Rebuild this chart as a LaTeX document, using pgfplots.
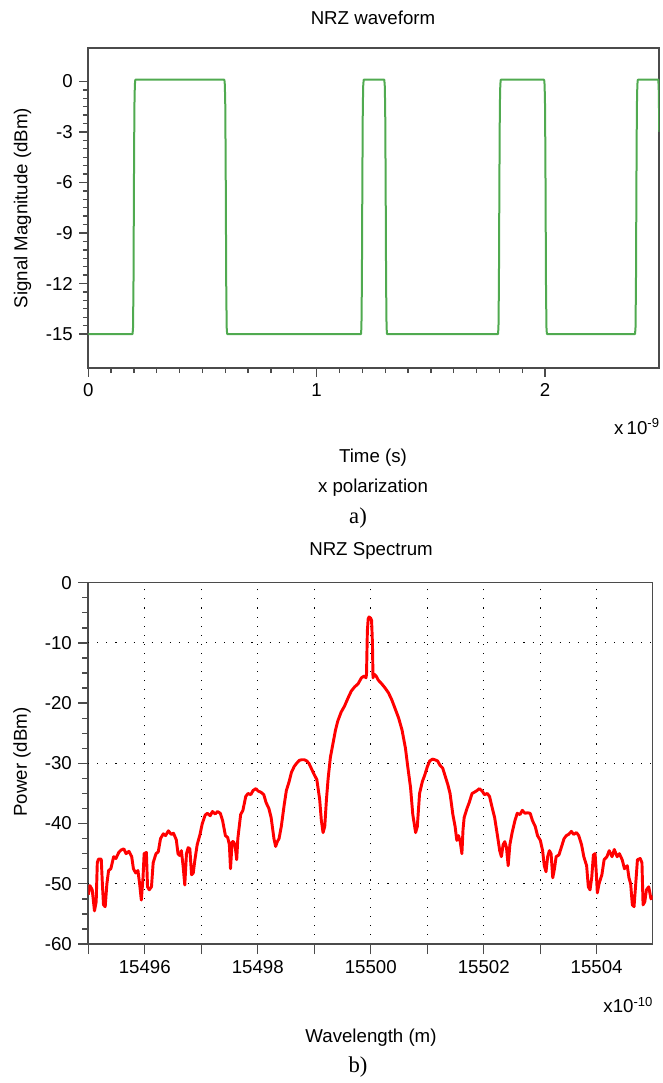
\documentclass[border=0pt]{standalone}
\usepackage{fontspec}
\setmainfont{Liberation Sans}
\newfontfamily\capfont{Liberation Serif}
\usepackage{pgfplots}
\usepackage{pgfplotstable}
\pgfplotsset{compat=1.18}
\definecolor{wavegreen}{RGB}{80,170,80}
\definecolor{axisgray}{RGB}{75,75,75}

\pgfplotstableread{
t y
0 -15
0.194 -15
0.196 -14.6
0.198 -12
0.2 -6
0.202 -1.5
0.204 -0.2
0.206 0.1
0.596 0.1
0.598 -0.2
0.6 -1.5
0.602 -6
0.604 -12
0.606 -14.6
0.608 -15
1.194 -15
1.196 -14.6
1.198 -12
1.2 -6
1.202 -1.5
1.204 -0.2
1.206 0.1
1.296 0.1
1.298 -0.2
1.3 -1.5
1.302 -6
1.304 -12
1.306 -14.6
1.308 -15
1.794 -15
1.796 -14.6
1.798 -12
1.8 -6
1.802 -1.5
1.804 -0.2
1.806 0.1
1.996 0.1
1.998 -0.2
2.0 -1.5
2.002 -6
2.004 -12
2.006 -14.6
2.008 -15
2.394 -15
2.396 -14.6
2.398 -12
2.4 -6
2.402 -1.5
2.404 -0.2
2.406 0.1
2.496 0.1
2.498 -0.6
2.5 -3
}\wavetable

\pgfplotstableread{
x y
15495.00 -51.8
15495.03 -50.3
15495.07 -51
15495.11 -54.5
15495.14 -53
15495.16 -46.5
15495.18 -45.9
15495.23 -45.9
15495.25 -50
15495.27 -53.5
15495.30 -53.8
15495.33 -50
15495.36 -47.8
15495.40 -47.5
15495.45 -45.5
15495.49 -45.8
15495.54 -44.8
15495.58 -44.4
15495.63 -44.2
15495.67 -45
15495.72 -44.6
15495.77 -45.5
15495.80 -47.5
15495.84 -48.2
15495.88 -47.8
15495.91 -50
15495.94 -52.7
15495.97 -49
15495.99 -45
15496.03 -44.8
15496.05 -50.5
15496.08 -51
15496.12 -50.5
15496.15 -46.5
15496.20 -45
15496.24 -44.7
15496.28 -42.5
15496.33 -41.7
15496.37 -42
15496.42 -41.2
15496.47 -41.8
15496.51 -41.6
15496.56 -42.7
15496.59 -45
15496.62 -45.3
15496.65 -44.5
15496.68 -47
15496.71 -50.2
15496.74 -45
15496.77 -44
15496.80 -44.2
15496.83 -48.5
15496.86 -48.2
15496.89 -46
15496.93 -43.5
15496.98 -41.8
15497.02 -40
15497.07 -38.6
15497.11 -38.3
15497.16 -38.7
15497.20 -38
15497.25 -38.4
15497.29 -38
15497.34 -38.3
15497.38 -39.5
15497.43 -42
15497.47 -42.3
15497.50 -43.5
15497.52 -47.5
15497.55 -43
15497.57 -43
15497.60 -43.5
15497.63 -46
15497.65 -42.5
15497.70 -38.5
15497.74 -37.8
15497.79 -35.5
15497.83 -35
15497.88 -35.2
15497.92 -34.5
15497.97 -34.2
15498.01 -34.6
15498.06 -34.8
15498.11 -35.2
15498.15 -36.5
15498.20 -37.5
15498.24 -39
15498.29 -42.5
15498.32 -43.8
15498.35 -43
15498.38 -42.5
15498.42 -40.5
15498.47 -37
15498.51 -34.5
15498.56 -33
15498.60 -31.5
15498.65 -30.5
15498.69 -30
15498.74 -29.5
15498.78 -29.4
15498.83 -29.4
15498.87 -29.6
15498.91 -30
15498.96 -31
15499.00 -31.8
15499.05 -32.7
15499.10 -36
15499.13 -39.5
15499.16 -41.5
15499.19 -40.5
15499.22 -36
15499.25 -32.5
15499.29 -29
15499.34 -26.5
15499.38 -24.5
15499.42 -23
15499.48 -21.5
15499.54 -20.5
15499.60 -19.2
15499.66 -18
15499.72 -17.3
15499.78 -16.8
15499.84 -15.8
15499.89 -15.5
15499.92 -15.8
15499.93 -15.2
15499.945 -8
15499.96 -6
15499.975 -5.7
15499.99 -5.8
15500.005 -5.9
15500.02 -6.3
15500.035 -10
15500.045 -15.8
15500.065 -15.2
15500.10 -15.5
15500.14 -16.2
15500.20 -16.8
15500.26 -17.5
15500.32 -18.3
15500.38 -19.5
15500.44 -21
15500.50 -22.5
15500.56 -24.5
15500.62 -27.5
15500.66 -30.5
15500.71 -34
15500.75 -38.5
15500.80 -41.5
15500.83 -40.5
15500.87 -35
15500.92 -33
15500.96 -32
15501.01 -30.5
15501.05 -29.6
15501.10 -29.3
15501.14 -29.4
15501.19 -29.6
15501.23 -30.3
15501.28 -30.8
15501.32 -32
15501.37 -33.5
15501.41 -35
15501.46 -38.5
15501.50 -40.5
15501.53 -42.8
15501.56 -42
15501.59 -43
15501.62 -45
15501.64 -41
15501.66 -39
15501.71 -37.5
15501.75 -36.5
15501.80 -35
15501.84 -34.8
15501.89 -34.5
15501.93 -34.2
15501.98 -34.6
15502.02 -35.2
15502.07 -35
15502.11 -35.5
15502.16 -37.5
15502.20 -39
15502.25 -42
15502.29 -44.5
15502.32 -45.5
15502.35 -43.5
15502.38 -43
15502.41 -44
15502.44 -47
15502.47 -43.5
15502.51 -41.5
15502.56 -39.5
15502.60 -38.3
15502.65 -38.5
15502.69 -37.8
15502.74 -38.3
15502.78 -38.2
15502.83 -38.3
15502.87 -39.5
15502.92 -40.5
15502.96 -42
15503.01 -42.8
15503.05 -44.5
15503.08 -47
15503.11 -48
15503.14 -45.5
15503.17 -44.5
15503.20 -45
15503.23 -49
15503.26 -47.5
15503.29 -45.5
15503.34 -45.2
15503.38 -44
15503.43 -42.5
15503.47 -42
15503.51 -41.8
15503.56 -41.3
15503.60 -41.8
15503.65 -41.5
15503.69 -42
15503.74 -43.5
15503.78 -45.5
15503.83 -47
15503.86 -50.5
15503.89 -51
15503.92 -49
15503.95 -45.2
15503.98 -45
15504.00 -48
15504.02 -51.5
15504.05 -50
15504.10 -48.5
15504.14 -46
15504.19 -45.5
15504.23 -44.5
15504.28 -45.5
15504.32 -44.3
15504.37 -45.5
15504.41 -45
15504.46 -46
15504.50 -47.5
15504.55 -47
15504.58 -49
15504.61 -50
15504.64 -53.5
15504.67 -53.8
15504.70 -50
15504.73 -46
15504.78 -45.8
15504.81 -46.5
15504.83 -53.5
15504.86 -53
15504.89 -51
15504.93 -50.5
15504.97 -52.5
15505.00 -52
}\spectable

\begin{document}
\fontsize{14}{16.8}\selectfont
\begin{tikzpicture}
\useasboundingbox (0pt,0pt) rectangle (496.5pt,-812.25pt);
\pgfplotsset{
  myaxis/.style={
    scale only axis,
    axis line style={axisgray, line width=1.2pt},
    every tick/.style={axisgray, line width=1pt},
    tick align=outside,
    ticklabel style={font=\fontsize{14}{16.8}\selectfont, black},
    /pgf/number format/assume math mode=true,
    xtick pos=bottom, ytick pos=left,
    scaled x ticks=false, scaled y ticks=false,
    clip=true,
  }
}
% ---------- panel a ----------
\begin{axis}[myaxis,
  at={(66.2pt,-275.8pt)}, anchor=south west,
  width=428.25pt, height=240pt,
  xmin=0, xmax=2.5, ymin=-17, ymax=2,
  xtick={0,1,2}, minor x tick num=9,
  ytick={-15,-12,-9,-6,-3,0}, minor y tick num=5,
  major tick length=6.75pt, minor tick length=4pt,
]
\addplot[wavegreen, line width=1.5pt, line join=round] table[x=t,y=y] {\wavetable};
\end{axis}
% ---------- panel b ----------
\begin{axis}[myaxis,
  at={(66.2pt,-708pt)}, anchor=south west,
  width=423.3pt, height=271pt,
  xmin=15495, xmax=15505, ymin=-60, ymax=0,
  xtick={15495,15496,...,15505},
  xticklabels={,15496,,15498,,15500,,15502,,15504,},
  minor x tick num=1,
  ytick={-60,-50,...,0}, minor y tick num=3,
  major tick length=7.5pt, minor tick length=4.5pt,
  xmajorgrids=true,
  major grid style={black, line width=0.8pt, dash pattern=on 0.8pt off 6pt},
  extra y ticks={-50,-30,-10},
  extra y tick labels={},
  extra y tick style={grid=major, major tick length=0pt},
]
\addplot[red, line width=2.2pt, line join=round] table[x=x,y=y] {\spectable};
\end{axis}
% ---------- texts ----------
\node at (279.75pt,-13.5pt) {NRZ waveform};
\node[rotate=90] at (17pt,-156pt) {Signal Magnitude (dBm)};
\node[anchor=east, inner sep=0pt] at (495pt,-320.25pt) {x\,10\textsuperscript{-9}};
\node at (279.75pt,-343.5pt) {Time (s)};
\node at (279.75pt,-366pt) {x polarization};
\node[font=\capfont\fontsize{17}{20}\selectfont] at (268.5pt,-388.5pt) {a)};
\node at (278.25pt,-413.25pt) {NRZ Spectrum};
\node[rotate=90] at (16.5pt,-571.5pt) {Power (dBm)};
\node[anchor=east, inner sep=0pt] at (490pt,-753.75pt) {x10\textsuperscript{-10}};
\node at (278.25pt,-778.5pt) {Wavelength (m)};
\node[font=\capfont\fontsize{17}{20}\selectfont] at (268.5pt,-800.25pt) {b)};
\end{tikzpicture}
\end{document}
